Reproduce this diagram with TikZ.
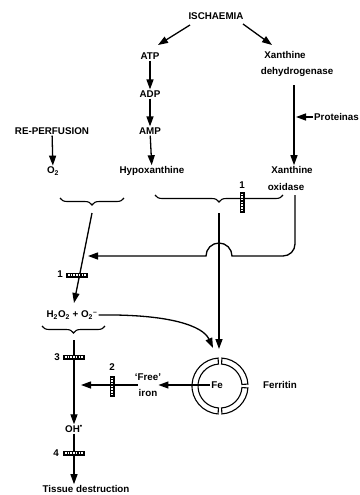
\documentclass[tikz,border=0pt]{standalone}
\usepackage{fontspec}
\setmainfont{Liberation Sans}
\usetikzlibrary{arrows.meta,decorations.pathreplacing,calc}
\begin{document}
\begin{tikzpicture}[x=1pt,y=-1pt,
  lbl/.style={font=\fontsize{9.8}{11}\selectfont\bfseries, inner sep=1pt},
  arr/.style={line width=1.3pt, -{Triangle[length=10pt,width=7pt]}},
  brc/.style={line width=1.1pt, decorate, decoration={brace,mirror,amplitude=7pt}},
  seg/.style={line width=1.1pt, fill=white},
  inhh/.style={rectangle, fill=black, minimum width=22pt, minimum height=5pt, inner sep=0pt,
    path picture={\draw[white,line width=1.5pt,dash pattern=on 1.5pt off 1.2pt]
      ([xshift=2pt]path picture bounding box.west) -- ([xshift=-2pt]path picture bounding box.east);}},
  inhv/.style={rectangle, fill=black, minimum width=5pt, minimum height=21pt, inner sep=0pt,
    path picture={\draw[white,line width=1.5pt,dash pattern=on 1.5pt off 1.2pt]
      ([yshift=-2pt]path picture bounding box.north) -- ([yshift=2pt]path picture bounding box.south);}}
]
\useasboundingbox (0,0) rectangle (359,495);

% text nodes
\node[lbl] (isch) at (216,16) {ISCHAEMIA};
\node[lbl] (atp) at (150,56) {ATP};
\node[lbl] (adp) at (150,94) {ADP};
\node[lbl] (amp) at (150,131) {AMP};
\node[lbl] (hypo) at (152,171) {Hypoxanthine};
\node[lbl] (xdh1) at (285,55) {Xanthine};
\node[lbl] (xdh2) at (297,72) {dehydrogenase};
\node[lbl,anchor=west] (prot) at (313,117) {Proteinas};
\node[lbl] (xox1) at (292,170) {Xanthine};
\node[lbl] (xox2) at (286,187) {oxidase};
\node[lbl] (rep) at (52,131) {RE-PERFUSION};
\node[lbl] (o2) at (53,171) {O\textsubscript{2}};
\node[lbl] (h2o2) at (72,315) {H\textsubscript{2}O\textsubscript{2} + O\textsubscript{2}\textsuperscript{–}};
\node[lbl] (oh) at (74,429) {OH\textsuperscript{•}};
\node[lbl] (tis) at (86,489) {Tissue destruction};
\node[lbl] (fe) at (217,385) {Fe};
\node[lbl] (ferr) at (280,385) {Ferritin};
\node[lbl] (free) at (148,377) {‘Free’};
\node[lbl] (iron) at (148,393) {iron};
\node[lbl] (n1a) at (242,185) {1};
\node[lbl] (n1b) at (60,274) {1};
\node[lbl] (n2) at (112,367) {2};
\node[lbl] (n3) at (57,357) {3};
\node[lbl] (n4) at (56,453) {4};

% coordinates
\coordinate (xline) at (294,85);
\coordinate (mtip) at (219,213);
\coordinate (ltip) at (92,213);
\coordinate (h2top) at (74,303);
\coordinate (htip) at (74,340);
\coordinate (ringtop) at (219,349);
\coordinate (ringtl) at (213,348);
\coordinate (lefttip) at (81,385);
\coordinate (oxs) at (295,195);
\coordinate (jointip) at (88,256);

% top arrows
\draw[arr] ($(isch)+(-26,9)$) -- ($(atp)+(8,-11)$);
\draw[arr] ($(isch)+(27,8)$) -- ($(xdh1)+(-13,-10)$);
\draw[arr] (atp) -- (adp);
\draw[arr] (adp) -- (amp);
\draw[arr] (amp) -- (hypo);
\draw[arr] (rep) -- (o2);
\draw[arr] (xline) -- (xox1.north -| xline);
\draw[arr] (prot.west) -- ($(prot.west -| xline)+(2,0)$);

% braces (underbraces: ends up, tip down)
\draw[brc] (60,198) -- (124,198);
\draw[brc] (155,195) -- (283,195);
\draw[brc] (42,326) -- (105,326);

% oxidase line with jump
\draw[arr] (oxs) -- (295,244) arc[start angle=0,end angle=90,radius=12]
  -- (232,256) arc[start angle=0,end angle=-180,radius=13] -- (jointip);

% middle vertical
\draw[arr] (mtip) -- (ringtop);
% left slanted
\draw[arr] (ltip) -- (h2top);
% curved to Fe
\draw[arr] (h2o2.east) .. controls (170,314) and (203,326) .. (ringtl);

% ferritin ring
\begin{scope}[shift={(220,386)}]
  \draw[seg] (-86:28) arc[start angle=-86,end angle=-4,radius=28] -- (-4:22)
     arc[start angle=-4,end angle=-86,radius=22] -- cycle;
  \draw[seg] (4:28) arc[start angle=4,end angle=86,radius=28] -- (86:22)
     arc[start angle=86,end angle=4,radius=22] -- cycle;
  \draw[seg] (94:28) arc[start angle=94,end angle=266,radius=28] -- (266:22)
     arc[start angle=266,end angle=94,radius=22] -- cycle;
\end{scope}

% iron arrows
\draw[arr] (fe.west) -- (fe -| iron.east);
\draw[arr] (iron.west |- fe) -- (lefttip);

% main left vertical
\draw[arr] (htip) -- (oh.north);
\draw[arr] (oh.south) -- (oh.south |- tis.north);

% inhibitor marks
\node[inhv] (i1a) at (242,202) {};
\node[inhh] (i1b) at (77,275) {};
\node[inhv] (i2) at (112,386) {};
\node[inhh] (i3) at (74,357) {};
\node[inhh] (i4) at (74,453) {};
\end{tikzpicture}
\end{document}
